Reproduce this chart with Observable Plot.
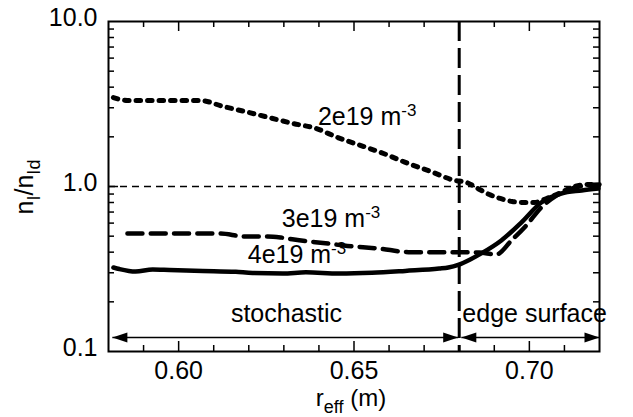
<!DOCTYPE html>
<html><head><meta charset="utf-8">
<script src="https://cdn.jsdelivr.net/npm/d3@7"></script>
<script src="https://cdn.jsdelivr.net/npm/@observablehq/plot@0.6"></script>
<style>body{margin:0;background:#fff;}</style>
</head><body><div id="chart"></div>
<script>
// ---- data ----
// 2e19 m-3 (dotted)
const r2 = [0.5814,0.5854,0.6063,0.6126,0.6191,0.6257,0.6326,0.6391,0.6454,0.6520,0.6586,0.6654,0.6720,0.6786,0.6820,0.6854,0.6886,0.6917,0.6951,0.6983,0.7014,0.7049,0.7091,0.7120,0.7169,0.7197];
const n2 = [3.46,3.32,3.32,3.06,2.84,2.62,2.41,2.25,1.98,1.77,1.58,1.38,1.23,1.09,1.06,0.97,0.894,0.846,0.811,0.800,0.800,0.846,0.920,0.986,1.030,1.010];
// 3e19 m-3 (dashed)
const r3 = [0.5854,0.6120,0.6186,0.6254,0.6291,0.6329,0.6426,0.6471,0.6569,0.6663,0.6797,0.6857,0.6906,0.6949,0.6991,0.7034,0.7077,0.7120,0.7163,0.7200];
const n3 = [0.519,0.519,0.498,0.498,0.491,0.477,0.451,0.439,0.421,0.400,0.400,0.398,0.388,0.471,0.580,0.746,0.882,0.972,1.014,1.028];
// 4e19 m-3 (solid)
const r4 = [0.5814,0.5831,0.5877,0.5926,0.5974,0.6069,0.6163,0.6211,0.6297,0.6363,0.6457,0.6551,0.6646,0.6743,0.6769,0.6797,0.6830,0.6863,0.6920,0.6977,0.7034,0.7091,0.7149,0.7197];
const n4 = [0.323,0.316,0.305,0.314,0.312,0.308,0.304,0.299,0.297,0.302,0.297,0.300,0.308,0.318,0.323,0.335,0.360,0.393,0.471,0.605,0.800,0.907,0.946,0.972];

const boundary = 0.68;        // stochastic / edge surface boundary
const refLevel = 1.0;         // n_I/n_Id = 1
const regionStart = [0.5811, 0.6806];
const regionEnd   = [0.6797, 0.7200];
const arrowLevel = 0.1216;

const labelText = ["2e19 m-3", "3e19 m-3", "4e19 m-3", "stochastic", "edge surface"];
const labelX    = [0.6397, 0.6294, 0.6197, 0.6149, 0.6809];
const labelY    = [2.62, 0.631, 0.382, 0.168, 0.168];

const xMajor = [0.60, 0.65, 0.70];
const xMinor = [0.59,0.61,0.62,0.63,0.64,0.66,0.67,0.68,0.69,0.71];
const yMajor = [1];
const yMinor = [0.2,0.3,0.4,0.5,0.6,0.7,0.8,0.9,2,3,4,5,6,7,8,9];
const yTicks = [0.1, 1, 10];

// ---- layout ----
const W = 633, H = 417, mL = 108, mT = 21, mR = 34, mB = 66;
const fH = H - mT - mB, fW = W - mL - mR;
const font = "'Liberation Sans', Arial, Helvetica, sans-serif";

const toRows = (xs, ys) => xs.map((x, i) => ({x, y: ys[i]}));
const d2 = toRows(r2, n2), d3r = toRows(r3, n3), d4 = toRows(r4, n4);
const regions = regionStart.map((s, i) => ({x1: s, x2: regionEnd[i], y: arrowLevel}));
const labels = labelText.map((t, i) => ({t, x: labelX[i], y: labelY[i]}));

const headRight = {draw(ctx) { ctx.moveTo(0, 0); ctx.lineTo(-15, -5); ctx.lineTo(-15, 5); ctx.closePath(); }};
const headLeft  = {draw(ctx) { ctx.moveTo(0, 0); ctx.lineTo(15, -5); ctx.lineTo(15, 5); ctx.closePath(); }};

const plot = Plot.plot({
  width: W, height: H,
  marginLeft: mL, marginTop: mT, marginRight: mR, marginBottom: mB,
  style: {fontFamily: font, fontSize: "25px", background: "white", color: "black", overflow: "visible"},
  x: {domain: [0.58, 0.72]},
  y: {type: "log", domain: [0.1, 10]},
  marks: [
    Plot.ruleY([refLevel], {y: d => d, stroke: "black", strokeWidth: 1.3, strokeDasharray: "7,5"}),
    Plot.ruleX([boundary], {x: d => d, stroke: "black", strokeWidth: 3, strokeDasharray: "20,7"}),
    Plot.line(d2, {x: "x", y: "y", stroke: "black", strokeWidth: 5, strokeDasharray: "4.5,7", curve: "monotone-x"}),
    Plot.line(d3r, {x: "x", y: "y", stroke: "black", strokeWidth: 4.5, strokeDasharray: "15,8.3", curve: "monotone-x"}),
    Plot.line(d4, {x: "x", y: "y", stroke: "black", strokeWidth: 4.5, curve: "monotone-x"}),
    Plot.link(regions, {x1: "x1", x2: "x2", y1: "y", y2: "y", stroke: "black", strokeWidth: 1.5}),
    Plot.dot(regions, {x: "x1", y: "y", symbol: headLeft, fill: "black", stroke: null}),
    Plot.dot(regions, {x: "x2", y: "y", symbol: headRight, fill: "black", stroke: null}),
    Plot.text(labels, {x: "x", y: "y", text: "t", textAnchor: "start", fontSize: 25, fill: "black"}),
    // inward ticks
    Plot.tickX(xMinor, {x: d => d, insetTop: fH - 6, stroke: "black", strokeWidth: 1.5}),
    Plot.tickX(xMinor, {x: d => d, insetBottom: fH - 6, stroke: "black", strokeWidth: 1.5}),
    Plot.tickX(xMajor, {x: d => d, insetTop: fH - 10, stroke: "black", strokeWidth: 1.5}),
    Plot.tickX(xMajor, {x: d => d, insetBottom: fH - 10, stroke: "black", strokeWidth: 1.5}),
    Plot.tickY(yMinor, {y: d => d, insetRight: fW - 6, stroke: "black", strokeWidth: 1.5}),
    Plot.tickY(yMinor, {y: d => d, insetLeft: fW - 6, stroke: "black", strokeWidth: 1.5}),
    Plot.tickY(yMajor, {y: d => d, insetRight: fW - 10, stroke: "black", strokeWidth: 1.5}),
    Plot.tickY(yMajor, {y: d => d, insetLeft: fW - 10, stroke: "black", strokeWidth: 1.5}),
    Plot.axisX({ticks: xMajor, tickFormat: d => d.toFixed(2), tickSize: 0, tickPadding: 10, label: null, fontSize: 25}),
    Plot.axisY({ticks: yTicks, tickFormat: d => d.toFixed(1), tickSize: 0, tickPadding: 11, dy: -4, label: null, fontSize: 25}),
    Plot.frame({stroke: "black", strokeWidth: 2})
  ]
});

// superscripts on the density labels
d3.select(plot).selectAll("text").each(function () {
  const s = this.textContent;
  if (/ m-3$/.test(s)) {
    const base = s.replace(/-3$/, "");
    const sel = d3.select(this);
    sel.text(base);
    sel.append("tspan").attr("dy", -9).attr("font-size", 17).text("-3");
  }
});

// axis titles with subscripts
const svg = d3.select(plot);
const yl = svg.append("text")
  .attr("transform", "translate(33,187) rotate(-90)")
  .attr("text-anchor", "middle").attr("font-size", 25).attr("fill", "black");
yl.append("tspan").text("n");
yl.append("tspan").attr("dy", 7).attr("font-size", 18).text("I");
yl.append("tspan").attr("dy", -7).text("/n");
yl.append("tspan").attr("dy", 7).attr("font-size", 18).text("Id");

const xl = svg.append("text")
  .attr("x", 351).attr("y", 406)
  .attr("text-anchor", "middle").attr("font-size", 24).attr("fill", "black");
xl.append("tspan").text("r");
xl.append("tspan").attr("dy", 7).attr("font-size", 18).text("eff");
xl.append("tspan").attr("dy", -7).text(" (m)");

document.getElementById("chart").appendChild(plot);
</script>
</body></html>
